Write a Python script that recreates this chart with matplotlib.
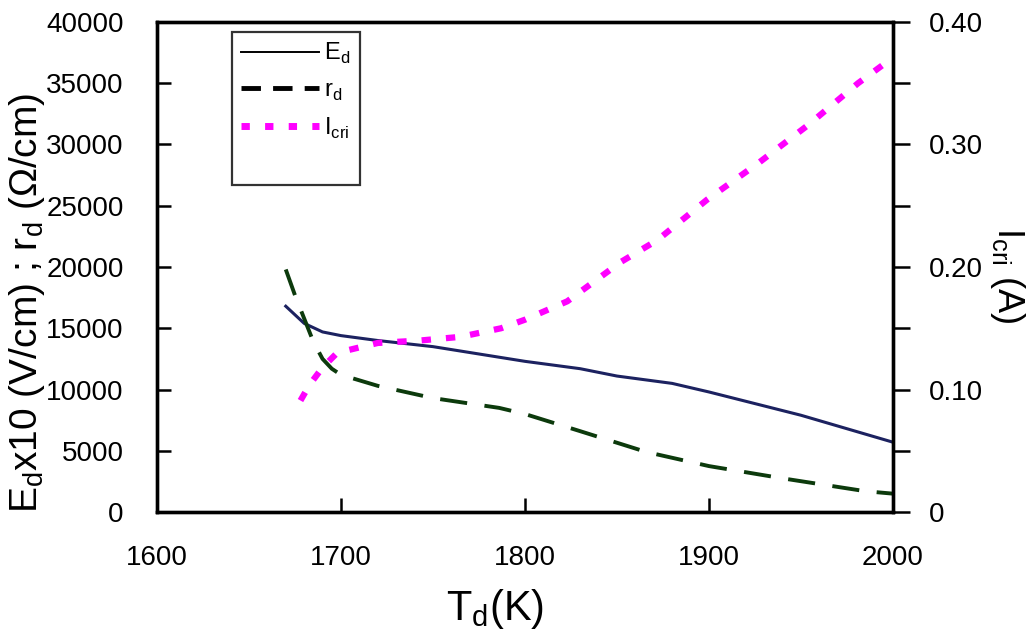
import matplotlib
matplotlib.use("Agg")
import matplotlib.pyplot as plt
from matplotlib.lines import Line2D
from matplotlib.ticker import MultipleLocator

plt.rcParams['font.family'] = ['Liberation Sans', 'DejaVu Sans']

# E_d x10 (V/cm)
t_e = [1670, 1680, 1690, 1700, 1720, 1750, 1800, 1830, 1850, 1880, 1900, 1950, 2000]
e_d = [16800, 15400, 14700, 14400, 14000, 13500, 12300, 11700, 11100, 10500, 9800, 7900, 5700]

# r_d (ohm/cm)
t_r = [1670, 1675, 1680, 1685, 1690, 1695, 1700, 1720, 1750, 1786, 1800, 1830, 1866, 1900, 1940, 1985, 2000]
r_d = [19800, 17700, 15800, 13900, 12500, 11700, 11200, 10300, 9300, 8500, 8000, 6600, 4900, 3750, 2750, 1700, 1500]

# I_cri (A)
t_i = [1678, 1683, 1690, 1698, 1720, 1743, 1765, 1787, 1800, 1823, 1852, 1872, 1899, 1927, 1954, 1981, 2000]
i_cri = [0.091, 0.104, 0.118, 0.130, 0.138, 0.140, 0.143, 0.150, 0.157, 0.172, 0.204, 0.222, 0.255, 0.285, 0.316, 0.350, 0.371]

fig = plt.figure(figsize=(10.34, 6.39), dpi=100)
ax = fig.add_axes([0.1518, 0.1987, 0.7118, 0.7669])
ax2 = ax.twinx()

ax.plot(t_e, e_d, color='#1c2260', lw=2.2)
ax.plot(t_r, r_d, color='#0c3a0c', lw=2.8, dashes=(7, 4.5))
ax2.plot(t_i, i_cri, color='#ff00ff', lw=4.5, dashes=(1.5, 2.4))

ax.set_xlim(1600, 2000)
ax.set_ylim(0, 40000)
ax2.set_ylim(0, 0.40)

ax.xaxis.set_major_locator(MultipleLocator(100))
ax.yaxis.set_major_locator(MultipleLocator(5000))
ax2.yaxis.set_major_locator(MultipleLocator(0.1))
ax2.yaxis.set_minor_locator(MultipleLocator(0.05))

ax.tick_params(axis='x', direction='in', length=10, width=1.8, labelsize=20, pad=24)
ax.tick_params(axis='y', direction='in', length=10, width=1.8, labelsize=20, pad=24)
ax2.tick_params(axis='y', which='major', direction='out', length=12, width=1.8, labelsize=20, pad=14)
ax2.tick_params(axis='y', which='minor', direction='out', length=12, width=1.8)
ax2.set_yticks([0, 0.1, 0.2, 0.3, 0.4])
ax2.set_yticklabels(['0', '0.10', '0.20', '0.30', '0.40'])

for a in (ax, ax2):
    for s in a.spines.values():
        s.set_linewidth(2.4)

ax.set_xlabel('T$_\\mathregular{d}$(K)', fontsize=30)
ax.xaxis.set_label_coords(0.459, -0.152)
ax.set_ylabel('E$_\\mathregular{d}$x10 (V/cm) ; r$_\\mathregular{d}$ (\u03a9/cm)', fontsize=28)
ax.yaxis.set_label_coords(-0.15, 0.427)
ax2.set_ylabel('I$_\\mathregular{cri}$ (A)', fontsize=26, rotation=270)
ax2.yaxis.set_label_coords(1.182, 0.484)

handles = [
    Line2D([], [], color='black', lw=1.4),
    Line2D([], [], color='black', lw=3.5, dashes=(4, 2.5)),
    Line2D([], [], color='#ff00ff', lw=5, dashes=(1.2, 2.2)),
    Line2D([], [], color='none'),
]
labels = ['E$_\\mathregular{d}$', 'r$_\\mathregular{d}$', 'I$_\\mathregular{cri}$', ' ']
leg = ax.legend(handles, labels, loc='upper left', bbox_to_anchor=(0.102, 0.98),
                fontsize=17, frameon=True, fancybox=False, edgecolor='black',
                handlelength=3.3, handletextpad=0.2, labelspacing=0.55,
                borderpad=0.4, borderaxespad=0)
leg.get_frame().set_linewidth(1.6)

fig.savefig('out.png', dpi=100)
